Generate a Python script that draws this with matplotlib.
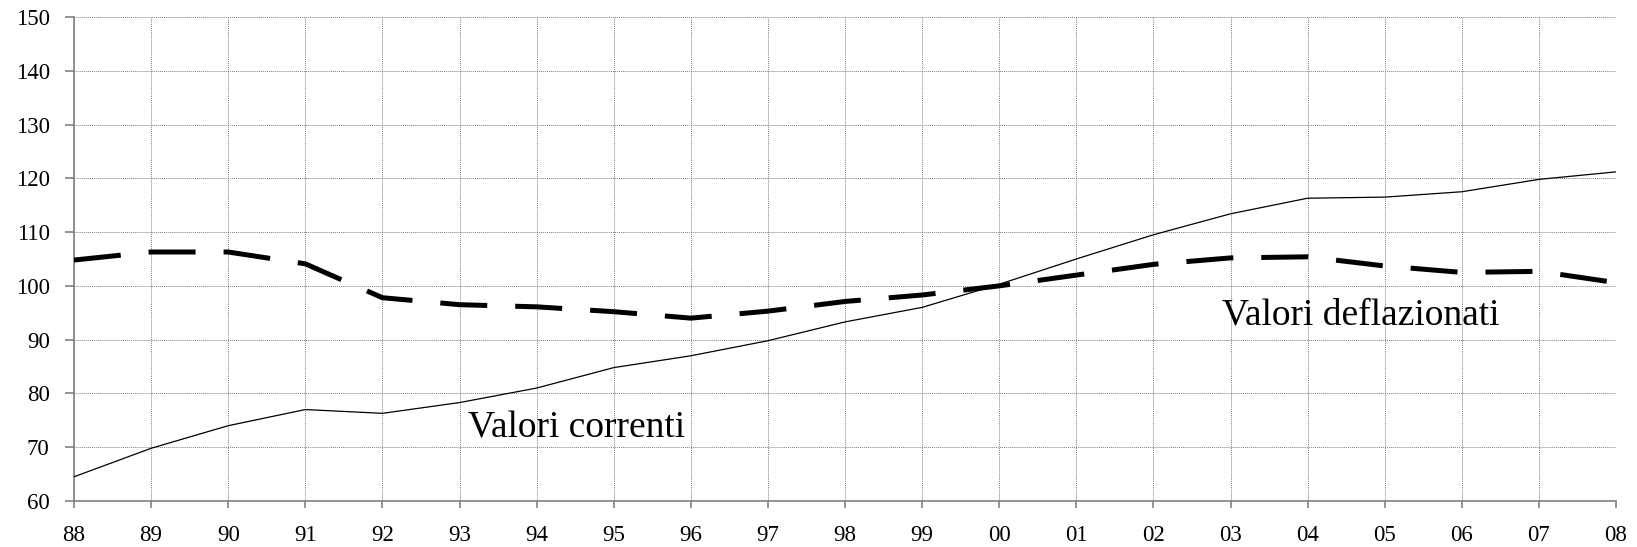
import matplotlib
matplotlib.use("Agg")
import matplotlib.pyplot as plt

years = ['88', '89', '90', '91', '92', '93', '94', '95', '96', '97', '98', '99',
         '00', '01', '02', '03', '04', '05', '06', '07', '08']
valori_correnti = [64.5, 69.8, 74.0, 77.0, 76.3, 78.3, 81.0, 84.8, 87.0, 89.8, 93.3,
                   96.0, 100.3, 105.0, 109.5, 113.4, 116.3, 116.5, 117.5, 119.8, 121.2]
valori_deflazionati = [104.8, 106.3, 106.3, 104.1, 97.8, 96.5, 96.1, 95.2, 94.0, 95.3,
                       97.1, 98.3, 100.0, 102.0, 104.0, 105.2, 105.4, 103.7, 102.5,
                       102.7, 100.6]
y_ticks = [60, 70, 80, 90, 100, 110, 120, 130, 140, 150]

plt.rcParams['font.family'] = ['Liberation Serif', 'DejaVu Serif']

fig = plt.figure(figsize=(16.37, 5.47), dpi=100)
ax = fig.add_axes([0.0452, 0.0841, 0.9420, 0.8849])

x = list(range(len(years)))
ax.plot(x, valori_correnti, color='black', lw=0.9, zorder=3)
ax.plot(x, valori_deflazionati, color='black', lw=3.6, dashes=(9.4, 5.6),
        solid_capstyle='butt', dash_capstyle='butt', zorder=3)

ax.set_xlim(0, len(years) - 1)
ax.set_ylim(60, 150)
ax.set_xticks(x)
ax.set_xticklabels(years)
ax.set_yticks(y_ticks)

ax.grid(True, color='#808080', linestyle=(0, (1, 1)), linewidth=0.7, zorder=0)
for s in ['top', 'right']:
    ax.spines[s].set_visible(False)
for s in ['left', 'bottom']:
    ax.spines[s].set_color('#808080')
    ax.spines[s].set_linewidth(1.2)

ax.tick_params(axis='both', colors='#808080', labelcolor='black', labelsize=16.5,
               width=1.2, direction='out')
ax.tick_params(axis='x', length=5, pad=12)
ax.tick_params(axis='y', length=6.5, pad=11)

ax.text(5.11, 73.6, 'Valori correnti', fontsize=27, va='center', ha='left')
ax.text(14.89, 94.6, 'Valori deflazionati', fontsize=27, va='center', ha='left')

fig.savefig('out.png', dpi=100)
